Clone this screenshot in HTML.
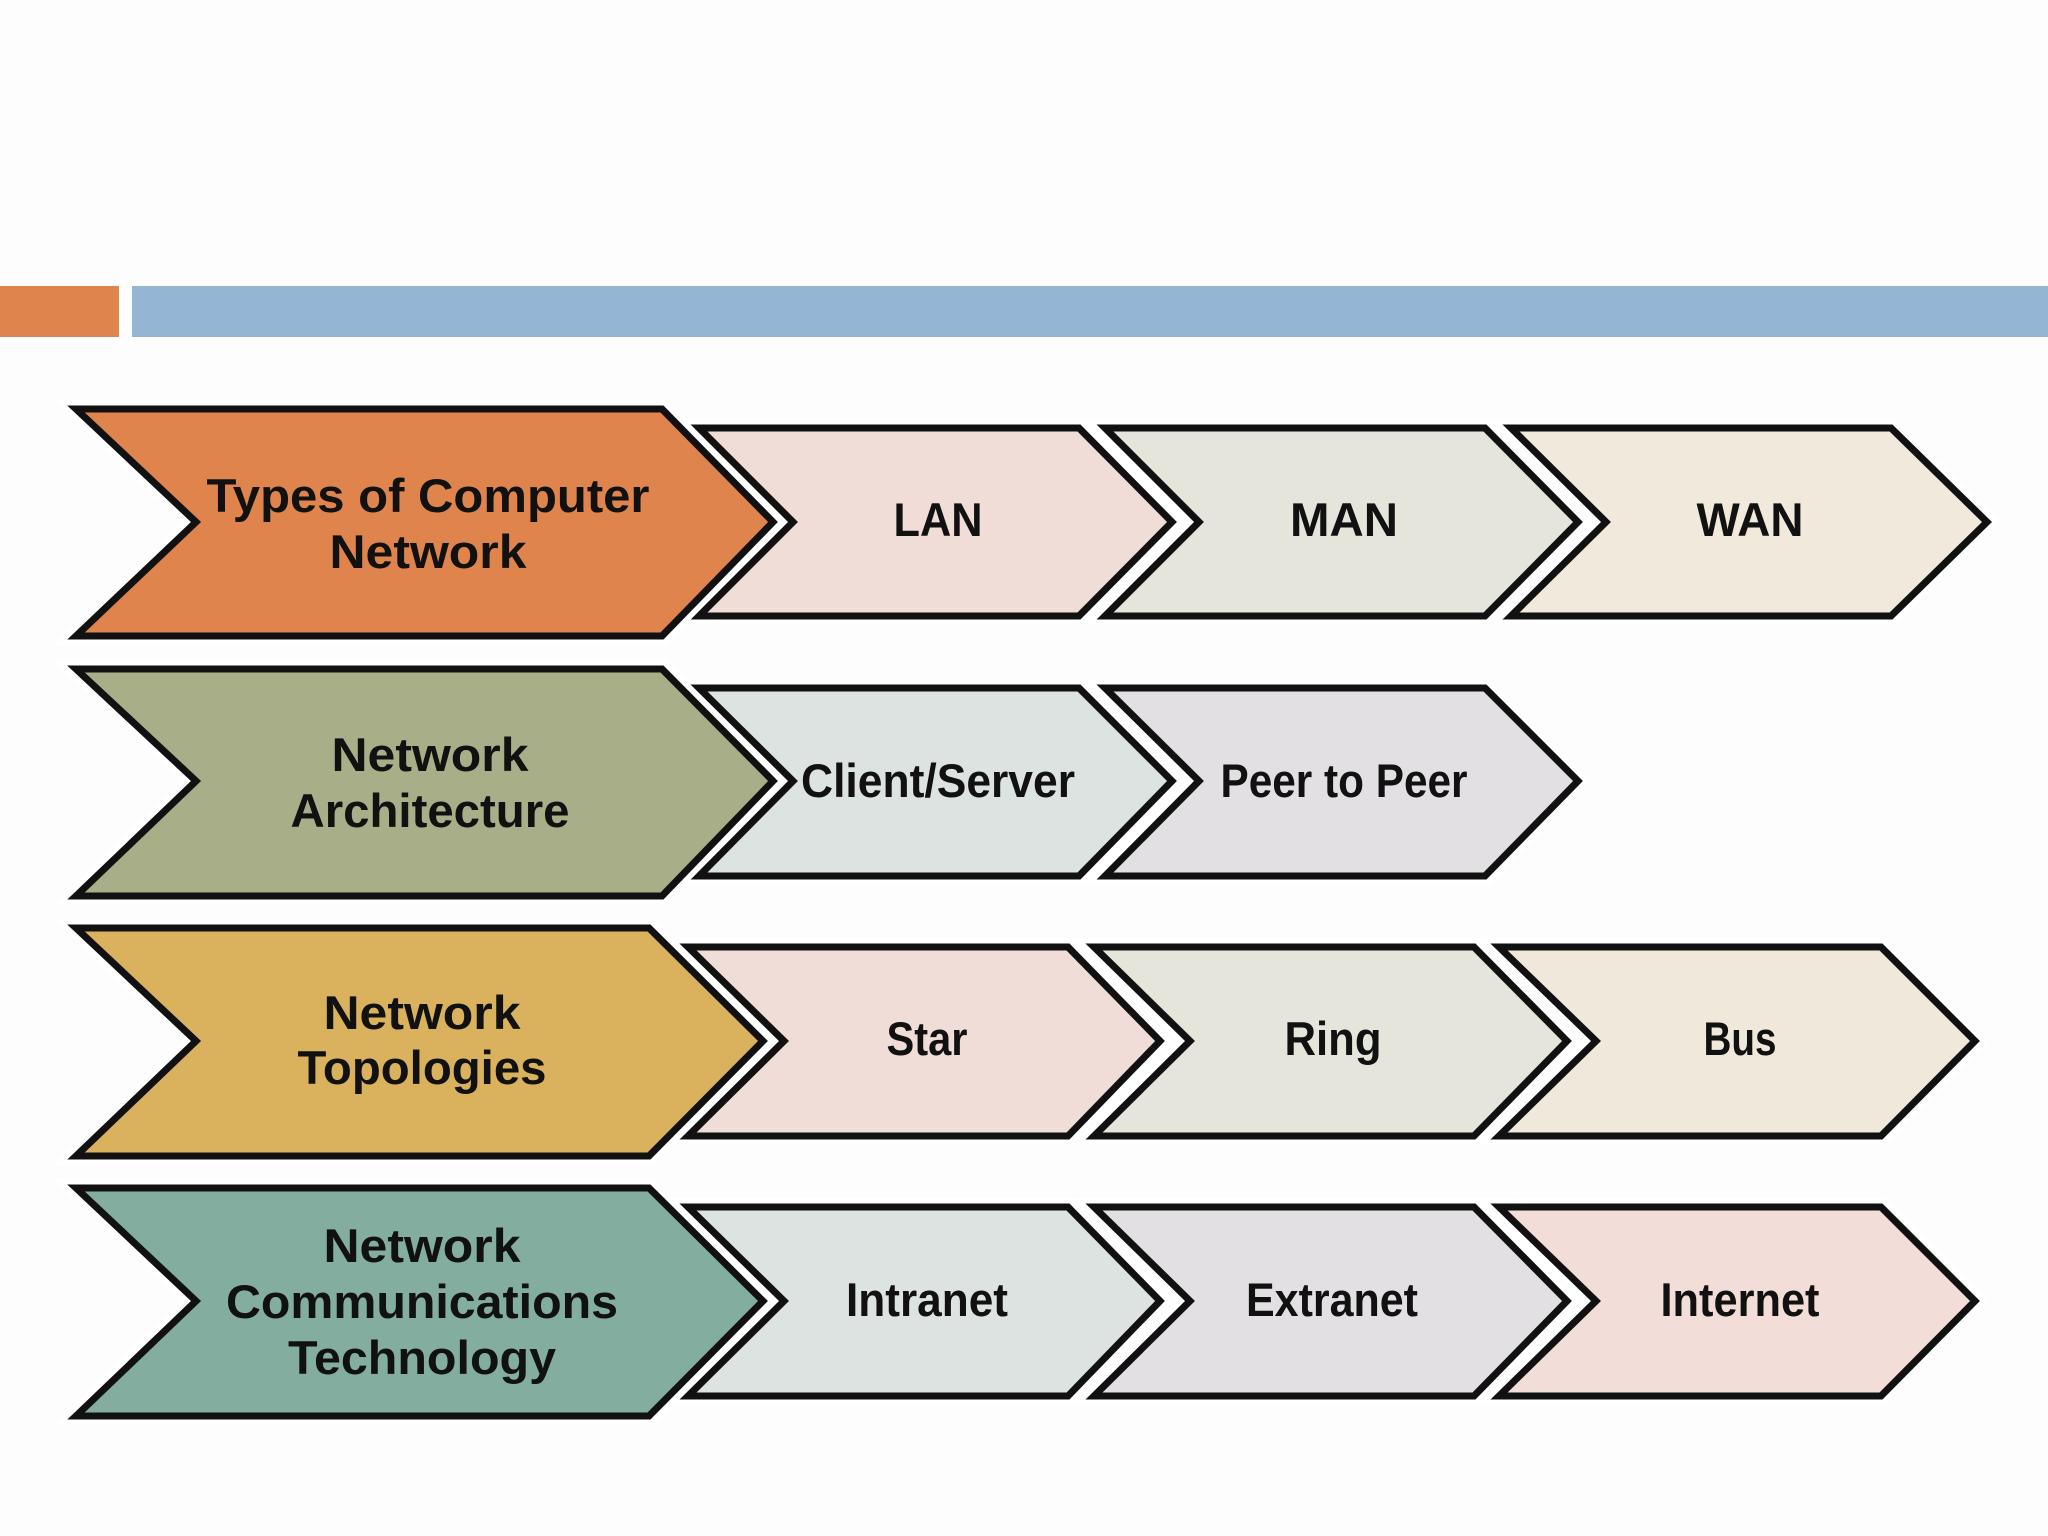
<!DOCTYPE html>
<html><head><meta charset="utf-8"><style>
html,body{margin:0;padding:0;background:#fdfdfd;}
svg{display:block}
text{font-family:"Liberation Sans",sans-serif;font-weight:bold;fill:#111;text-anchor:middle}
</style></head><body>
<svg width="2048" height="1536" viewBox="0 0 2048 1536" xmlns="http://www.w3.org/2000/svg">
<rect x="0" y="0" width="2048" height="1536" fill="#fdfdfd"/>
<rect x="0" y="286" width="119" height="51" fill="#df844c"/>
<rect x="132" y="286" width="1916" height="51" fill="#94b5d4"/>
<defs>
<style>
.w{stroke:#fff;stroke-width:18;stroke-linejoin:miter}
.b{stroke:#111;stroke-width:7;stroke-linejoin:miter}
</style>
</defs>
<!-- helper: small chevron: L R tip notch, cy, half-height 94 -->
<!-- Row 1 -->
<g>
<polygon class="w" points="1511,428 1891,428 1987,522 1891,616 1511,616 1606,522" fill="#f0e9dc"/>
<polygon class="b" points="1511,428 1891,428 1987,522 1891,616 1511,616 1606,522" fill="#f0e9dc"/>
<polygon class="w" points="1105,428 1485,428 1578,522 1485,616 1105,616 1199,522" fill="#e6e5dc"/>
<polygon class="b" points="1105,428 1485,428 1578,522 1485,616 1105,616 1199,522" fill="#e6e5dc"/>
<polygon class="w" points="699,428 1079,428 1172,522 1079,616 699,616 793,522" fill="#f0ddd8"/>
<polygon class="b" points="699,428 1079,428 1172,522 1079,616 699,616 793,522" fill="#f0ddd8"/>
<polygon class="w" points="76,409 662,409 773,522 662,636 76,636 196,522" fill="#df844c"/>
<polygon class="b" points="76,409 662,409 773,522 662,636 76,636 196,522" fill="#df844c"/>
</g>
<!-- Row 2 -->
<g>
<polygon class="w" points="1105,688 1485,688 1578,781 1485,876 1105,876 1199,781" fill="#e3e0e4"/>
<polygon class="b" points="1105,688 1485,688 1578,781 1485,876 1105,876 1199,781" fill="#e3e0e4"/>
<polygon class="w" points="699,688 1079,688 1172,781 1079,876 699,876 793,781" fill="#dde3e1"/>
<polygon class="b" points="699,688 1079,688 1172,781 1079,876 699,876 793,781" fill="#dde3e1"/>
<polygon class="w" points="76,669 662,669 773,781 662,896 76,896 196,781" fill="#a8ae88"/>
<polygon class="b" points="76,669 662,669 773,781 662,896 76,896 196,781" fill="#a8ae88"/>
</g>
<!-- Row 3 -->
<g>
<polygon class="w" points="1499,947 1881,947 1975,1041 1881,1136 1499,1136 1596,1041" fill="#f0e8db"/>
<polygon class="b" points="1499,947 1881,947 1975,1041 1881,1136 1499,1136 1596,1041" fill="#f0e8db"/>
<polygon class="w" points="1094,947 1474,947 1567,1041 1474,1136 1094,1136 1190,1041" fill="#e6e5dc"/>
<polygon class="b" points="1094,947 1474,947 1567,1041 1474,1136 1094,1136 1190,1041" fill="#e6e5dc"/>
<polygon class="w" points="688,947 1068,947 1160,1041 1068,1136 688,1136 784,1041" fill="#f0ddd8"/>
<polygon class="b" points="688,947 1068,947 1160,1041 1068,1136 688,1136 784,1041" fill="#f0ddd8"/>
<polygon class="w" points="76,928 649,928 763,1041 649,1156 76,1156 196,1041" fill="#dab25e"/>
<polygon class="b" points="76,928 649,928 763,1041 649,1156 76,1156 196,1041" fill="#dab25e"/>
</g>
<!-- Row 4 -->
<g>
<polygon class="w" points="1499,1207 1881,1207 1975,1301 1881,1396 1499,1396 1596,1301" fill="#f2ddd9"/>
<polygon class="b" points="1499,1207 1881,1207 1975,1301 1881,1396 1499,1396 1596,1301" fill="#f2ddd9"/>
<polygon class="w" points="1094,1207 1474,1207 1567,1301 1474,1396 1094,1396 1190,1301" fill="#e3e0e4"/>
<polygon class="b" points="1094,1207 1474,1207 1567,1301 1474,1396 1094,1396 1190,1301" fill="#e3e0e4"/>
<polygon class="w" points="688,1207 1068,1207 1160,1301 1068,1396 688,1396 784,1301" fill="#dde3e1"/>
<polygon class="b" points="688,1207 1068,1207 1160,1301 1068,1396 688,1396 784,1301" fill="#dde3e1"/>
<polygon class="w" points="76,1188 649,1188 763,1301 649,1416 76,1416 196,1301" fill="#82ad9f"/>
<polygon class="b" points="76,1188 649,1188 763,1301 649,1416 76,1416 196,1301" fill="#82ad9f"/>
</g>
<g font-size="47">
<text x="428" y="512" textLength="443" lengthAdjust="spacingAndGlyphs">Types of Computer</text>
<text x="428" y="568" textLength="197" lengthAdjust="spacingAndGlyphs">Network</text>
<text x="938" y="536" textLength="89" lengthAdjust="spacingAndGlyphs">LAN</text>
<text x="1344" y="536" textLength="108" lengthAdjust="spacingAndGlyphs">MAN</text>
<text x="1750" y="536" textLength="107" lengthAdjust="spacingAndGlyphs">WAN</text>

<text x="430" y="771" textLength="197" lengthAdjust="spacingAndGlyphs">Network</text>
<text x="430" y="827" textLength="279" lengthAdjust="spacingAndGlyphs">Architecture</text>
<text x="938" y="797" textLength="274" lengthAdjust="spacingAndGlyphs">Client/Server</text>
<text x="1344" y="797" textLength="247" lengthAdjust="spacingAndGlyphs">Peer to Peer</text>

<text x="422" y="1029" textLength="197" lengthAdjust="spacingAndGlyphs">Network</text>
<text x="422" y="1084" textLength="249" lengthAdjust="spacingAndGlyphs">Topologies</text>
<text x="927" y="1055" textLength="81" lengthAdjust="spacingAndGlyphs">Star</text>
<text x="1333" y="1055" textLength="97" lengthAdjust="spacingAndGlyphs">Ring</text>
<text x="1740" y="1055" textLength="73" lengthAdjust="spacingAndGlyphs">Bus</text>

<text x="422" y="1262" textLength="197" lengthAdjust="spacingAndGlyphs">Network</text>
<text x="422" y="1318" textLength="392" lengthAdjust="spacingAndGlyphs">Communications</text>
<text x="422" y="1374" textLength="268" lengthAdjust="spacingAndGlyphs">Technology</text>
<text x="927" y="1316" textLength="162" lengthAdjust="spacingAndGlyphs">Intranet</text>
<text x="1332" y="1316" textLength="172" lengthAdjust="spacingAndGlyphs">Extranet</text>
<text x="1740" y="1316" textLength="159" lengthAdjust="spacingAndGlyphs">Internet</text>
</g>
</svg>
</body></html>
